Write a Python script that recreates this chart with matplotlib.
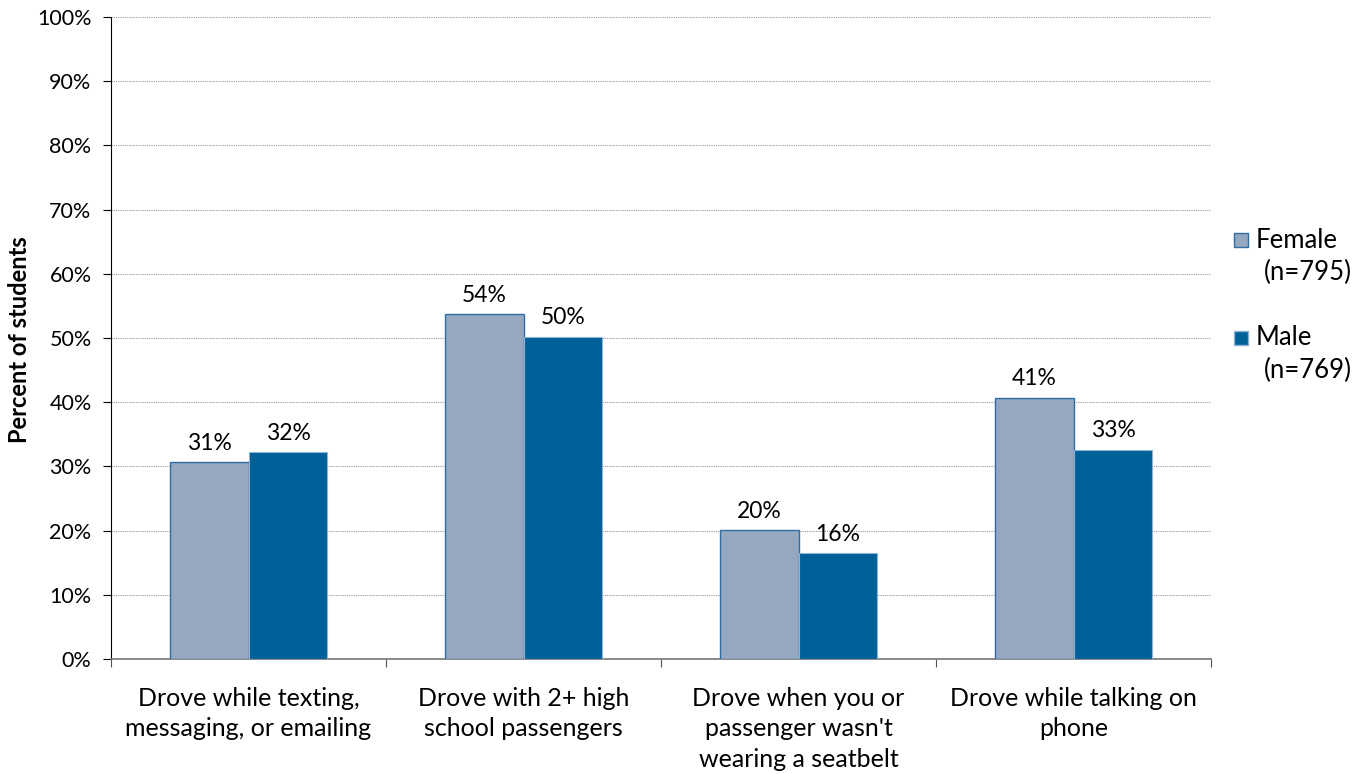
import matplotlib
matplotlib.use("Agg")
import matplotlib.pyplot as plt
import numpy as np
from matplotlib.patches import Rectangle

categories = ["Drove while texting,\nmessaging, or emailing",
              "Drove with 2+ high\nschool passengers",
              "Drove when you or\npassenger wasn't\nwearing a seatbelt",
              "Drove while talking on\nphone"]
female = [30.7, 53.7, 20.1, 40.7]
male = [32.2, 50.2, 16.5, 32.6]
female_labels = ["31%", "54%", "20%", "41%"]
male_labels = ["32%", "50%", "16%", "33%"]
series_names = ["Female\n(n=795)", "Male\n(n=769)"]

plt.rcParams['font.family'] = ['Lato', 'DejaVu Sans']
fc = "#95A8C0"
mc = "#006098"

fig = plt.figure(figsize=(13.64, 7.74), dpi=100)
ax = fig.add_axes([111/1364, 1-659/774, 1100/1364, 642/774])

x = np.arange(len(categories))
w = 0.287
ax.bar(x - w/2, female, w, color=fc, edgecolor="#2E6DA4", linewidth=1.0, zorder=3)
ax.bar(x + w/2, male, w, color=mc, edgecolor="#8DB4D8", linewidth=0.8, zorder=3)
for i in range(len(categories)):
    ax.text(x[i] - w/2, female[i] + 1.3, female_labels[i], ha="center", va="bottom", fontsize=16.5)
    ax.text(x[i] + w/2, male[i] + 1.3, male_labels[i], ha="center", va="bottom", fontsize=16.5)

ax.set_xlim(-0.5, len(categories) - 0.5)
ax.set_ylim(0, 100)
ax.set_yticks(np.arange(0, 101, 10))
ax.set_yticklabels([f"{v}%" for v in range(0, 101, 10)], fontsize=15.5)
ax.yaxis.grid(True, linestyle=(0, (1, 1)), color="#999999", linewidth=0.8, zorder=0)
ax.set_axisbelow(True)
ax.set_xticks(np.arange(-0.5, len(categories)), minor=False)
ax.set_xticklabels([])
ax.set_xticks(x, minor=True)
ax.set_xticklabels(categories, minor=True, fontsize=18, linespacing=1.4)
ax.tick_params(axis="x", which="minor", length=0, pad=20)
ax.tick_params(axis="x", which="major", length=6, color="#555555")
ax.tick_params(axis="y", length=6, pad=8)
for s in ["top", "right"]:
    ax.spines[s].set_visible(False)
ax.spines["bottom"].set_color("#777777")
ax.spines["bottom"].set_linewidth(1.2)
fig.text(20/1364, 1-340/774, "Percent of students", fontsize=17, fontweight="bold",
         rotation=90, ha="center", va="center")

# legend
for j, (col, ec, y) in enumerate([(fc, "#2E6DA4", 240), (mc, "#8DB4D8", 338)]):
    fig.patches.append(Rectangle((1234/1364, 1-(y+7)/774), 14/1364, 14/774,
                                 transform=fig.transFigure, facecolor=col, edgecolor=ec, linewidth=1))
    name, n = series_names[j].split("\n")
    fig.text(1256/1364, 1-y/774, name, fontsize=18.5, va="center", ha="left")
    fig.text(1264/1364, 1-(y+32)/774, n, fontsize=18.5, va="center", ha="left")

fig.savefig("out.png", dpi=100)
